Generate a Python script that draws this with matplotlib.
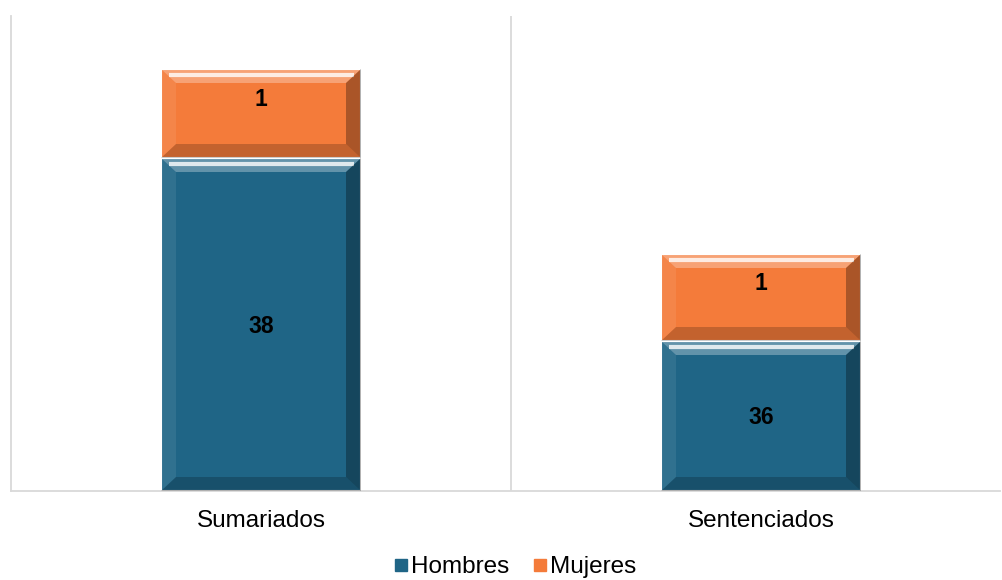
import matplotlib
matplotlib.use("Agg")
import matplotlib.pyplot as plt
from matplotlib.patches import Polygon, Rectangle
from matplotlib.lines import Line2D

plt.rcParams["font.family"] = ["Liberation Sans", "DejaVu Sans"]

categories = ["Sumariados", "Sentenciados"]
# shown values (data labels)
hombres_vals = [38, 36]
mujeres_vals = [1, 1]
# drawn segment heights as they appear in the picture (axis is not proportional)
hombres_heights = [333, 150]
mujeres_heights = [89, 87]

c_hombres = "#1f6586"
c_mujeres = "#f47b3a"
bar_w = 0.4


def bevel_bar(ax, x, bottom, height, color):
    left, right = x - bar_w / 2, x + bar_w / 2
    top = bottom + height
    bx, by = 0.03, 14
    ax.add_patch(Rectangle((left, bottom), bar_w, height, facecolor=color,
                           edgecolor="white", linewidth=1.5, zorder=2))
    # top face (light)
    ax.add_patch(Polygon([(left, top), (right, top), (right - bx, top - by), (left + bx, top - by)],
                         closed=True, facecolor="white", alpha=0.3, linewidth=0, zorder=3))
    ax.plot([left + bx * 0.5, right - bx * 0.5], [top - by * 0.4, top - by * 0.4],
            color="white", alpha=0.8, linewidth=3, zorder=3, solid_capstyle="butt")
    # bottom face (dark)
    ax.add_patch(Polygon([(left, bottom), (right, bottom), (right - bx, bottom + by), (left + bx, bottom + by)],
                         closed=True, facecolor="black", alpha=0.2, linewidth=0, zorder=3))
    # right face (dark)
    ax.add_patch(Polygon([(right, bottom), (right, top), (right - bx, top - by), (right - bx, bottom + by)],
                         closed=True, facecolor="black", alpha=0.3, linewidth=0, zorder=3))
    # left face (slightly light)
    ax.add_patch(Polygon([(left, bottom), (left, top), (left + bx, top - by), (left + bx, bottom + by)],
                         closed=True, facecolor="white", alpha=0.08, linewidth=0, zorder=3))


fig = plt.figure(figsize=(10.02, 5.8), dpi=100)
ax = fig.add_axes([11 / 1002, (580 - 491) / 580, 989 / 1002, 475 / 580])

xs = list(range(len(categories)))
for i, x in enumerate(xs):
    bevel_bar(ax, x, 0, hombres_heights[i], c_hombres)
    bevel_bar(ax, x, hombres_heights[i], mujeres_heights[i], c_mujeres)
    ax.text(x, hombres_heights[i] / 2 - 2, str(hombres_vals[i]), ha="center", va="center",
            fontsize=16.5, fontweight="bold", color="black", zorder=5)
    ax.text(x, hombres_heights[i] + mujeres_heights[i] / 2 + 14, str(mujeres_vals[i]), ha="center",
            va="center", fontsize=16.5, fontweight="bold", color="black", zorder=5)

ax.set_xlim(-0.5, 1.478)
ax.set_ylim(0, 475)
ax.set_xticks([])
ax.set_yticks([])
for s in ["top", "right"]:
    ax.spines[s].set_visible(False)
for s in ["left", "bottom"]:
    ax.spines[s].set_color("#d9d9d9")
    ax.spines[s].set_linewidth(1.3)
ax.axvline(0.5, color="#d9d9d9", linewidth=1.3, zorder=1)

for i, x in enumerate(xs):
    ax.text(x, -30, categories[i], ha="center", va="center", fontsize=17.5, color="#000000",
            transform=ax.transData, clip_on=False)

handles = [Line2D([], [], marker="s", linestyle="none", markersize=8, markerfacecolor=c_hombres,
                  markeredgecolor=c_hombres),
           Line2D([], [], marker="s", linestyle="none", markersize=8, markerfacecolor=c_mujeres,
                  markeredgecolor=c_mujeres)]
fig.legend(handles, ["Hombres", "Mujeres"], loc="center", bbox_to_anchor=(515 / 1002, 1 - 567 / 580),
           ncol=2, frameon=False, fontsize=17.5, handlelength=0.6, handletextpad=0.1, columnspacing=1.0,
           borderpad=0)

fig.savefig("out.png", dpi=100)
